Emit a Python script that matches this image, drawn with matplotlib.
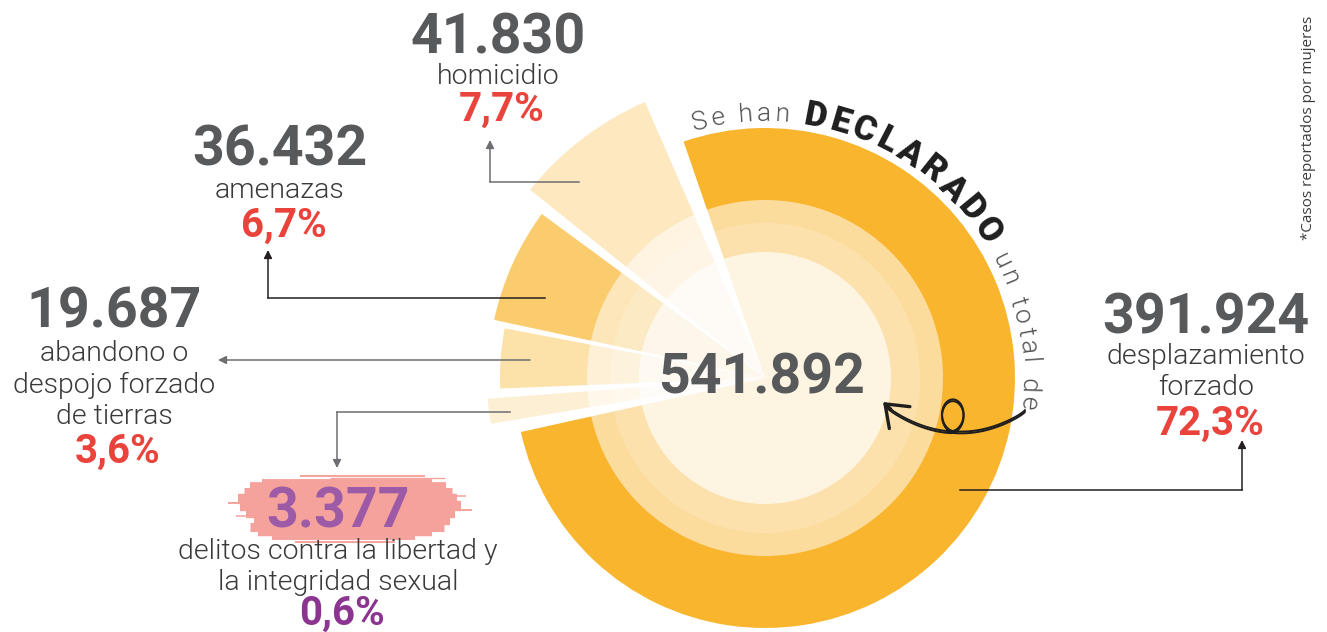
import numpy as np
import matplotlib
matplotlib.use("Agg")
import matplotlib.pyplot as plt
from matplotlib.patches import Wedge, Circle
from matplotlib.font_manager import FontProperties, findfont, get_font

# datos (casos declarados)
categories = ["desplazamiento\nforzado", "homicidio", "amenazas",
              "abandono o\ndespojo forzado\nde tierras",
              "delitos contra la libertad y\nla integridad sexual"]
values = [391924, 41830, 36432, 19687, 3377]
total = 541892

# estilo de cada porcion
radii = [250, 301, 277, 265, 278]
colors = ["#F9B52E", "#FDE8C0", "#FACC6D", "#FCE1A9", "#FDEFD4"]

W, H = 1327, 632
cx, cy = 765, 378

GRAY = "#58595B"
DARK = "#3A3A3C"
RED = "#E9433B"


def fmt_num(v):
    return f"{v:,}".replace(",", ".")


def fmt_pct(v):
    return f"{100 * v / total:.1f}%".replace(".", ",")


def fp(weight="bold", size=20, family="Roboto"):
    return FontProperties(family=family, weight=weight, size=size)


fig = plt.figure(figsize=(W / 100, H / 100), dpi=100)
ax = fig.add_axes([0, 0, 1, 1])
ax.set_xlim(0, W)
ax.set_ylim(H, 0)
ax.axis("off")

# angulos de las porciones (grados en pantalla, antihorario)
gaps = [2.4, 1.3, 2.0, 3.0]
start = 113.5
angles = {}
a = start
for i in range(1, len(values)):
    span = max(values[i] / total * 360, 5.2)
    angles[i] = (a, a + span)
    a += span + gaps[i - 1]
angles[0] = (a, start - 4.5 + 360)

for i in range(len(values)):
    t1, t2 = angles[i]
    ax.add_patch(Wedge((cx, cy), radii[i], -t2, -t1, fc=colors[i], lw=0, zorder=1))

# aros claros del centro
ax.add_patch(Circle((cx, cy), 178, fc="white", alpha=0.53, lw=0, zorder=2))
ax.add_patch(Circle((cx, cy), 155, fc="white", alpha=0.17, lw=0, zorder=2))
ax.add_patch(Circle((cx, cy), 126, fc="white", alpha=0.66, lw=0, zorder=2))

ax.text(cx - 3, cy, fmt_num(total), fontproperties=fp("bold", 40), color=GRAY,
        ha="center", va="center", zorder=5)


# texto curvo
def arc_text(parts, r, a_start, a_end):
    chars = []
    for s, prop, col in parts:
        f = get_font(findfont(prop))
        f.set_size(prop.get_size_in_points(), 100)
        for ch in s:
            adv = f.load_char(ord(ch)).linearHoriAdvance / 65536
            chars.append((ch, prop, col, adv))
    arc = np.deg2rad(a_start - a_end) * r
    gap = (arc - sum(c[3] for c in chars)) / (len(chars) - 1)
    pos = 0.0
    for ch, prop, col, adv in chars:
        th = a_start - np.rad2deg((pos + adv / 2) / r)
        x = cx + r * np.cos(np.deg2rad(th))
        y = cy - r * np.sin(np.deg2rad(th))
        ax.text(x, y, ch, fontproperties=prop, color=col, rotation=th - 90,
                rotation_mode="anchor", ha="center", va="baseline", zorder=5)
        pos += adv + gap


arc_text([("Se han ", fp(300, 19), "#555555"),
          ("DECLARADO", fp("black", 25), "#1E1E1E"),
          (" un total de", fp(300, 19), "#555555")], 257, 106, -7)

# flecha en espiral
u = np.linspace(0, 1, 300)
xb = 1025 - 134 * u
yb = 410 - 5 * u + 24 * np.sin(np.pi * u) ** 0.8
u0 = 0.52
phi = np.linspace(0, 2 * np.pi, 150)
x0l = np.interp(u0, u, xb)
y0l = np.interp(u0, u, yb)
xl = x0l - 12 * np.sin(phi) - 5 * phi / (2 * np.pi)
yl = y0l - 16 + 16 * np.cos(phi)
m1 = u <= u0
m2 = u >= u0
xs = np.concatenate([xb[m1], xl, xb[m2] - 5])
ys = np.concatenate([yb[m1], yl, yb[m2]])
for off in (0, 1.8):
    ax.plot(xs, ys + off, color="#1E1E1E", lw=1.4, zorder=6, solid_capstyle="round")
ax.annotate("", xy=(xs[-1] - 3, ys[-1] - 3), xytext=(xs[-12], ys[-12]),
            arrowprops=dict(arrowstyle="->,head_length=0.6,head_width=0.45",
                            color="#1E1E1E", lw=2.4,
                            mutation_scale=24, shrinkA=0, shrinkB=0), zorder=6)

# mancha de pincel detras de 3.377
strokes = [(300, 425, 476, 1.5), (262, 432, 481, 3), (250, 446, 486, 6),
           (244, 452, 492, 7), (238, 457, 499, 8), (240, 461, 506, 8),
           (246, 455, 513, 8), (254, 450, 520, 8), (250, 444, 527, 7),
           (258, 432, 533, 5), (272, 415, 538, 3), (295, 395, 542, 1.5),
           (228, 300, 503, 1.5), (445, 472, 510, 1.5), (330, 445, 478, 1),
           (236, 280, 516, 1.2), (430, 466, 496, 1.2)]
for x0, x1, y, lw in strokes:
    ax.plot([x0, x1], [y, y], color="#F5A29C", lw=lw / 1.389 * 1.3,
            solid_capstyle="butt", zorder=3)


def arrow(p0, p1, color):
    ax.annotate("", xy=p1, xytext=p0,
                arrowprops=dict(arrowstyle="-|>", color=color, lw=1.1,
                                mutation_scale=12, shrinkA=0, shrinkB=0), zorder=4)


LG = "#6D6E71"
BK = "#231F20"
ax.plot([579, 490], [182, 182], color=LG, lw=1.1, zorder=4)
arrow((490, 182), (490, 140), LG)
ax.plot([545, 268], [298, 298], color=BK, lw=1.1, zorder=4)
arrow((268, 298), (268, 250), BK)
arrow((530, 360), (218, 360), LG)
ax.plot([510, 337], [412, 412], color=LG, lw=1.1, zorder=4)
arrow((337, 412), (337, 468), LG)
ax.plot([960, 1242], [490, 490], color=BK, lw=1.1, zorder=4)
arrow((1242, 490), (1242, 440), BK)

# etiquetas: (x, y numero, y etiqueta, y porcentaje)
layout = [(1206, 318, 372, 424), (498, 38, 76, 110), (280, 150, 190, 226),
          (114, 312, 385, 452), (338, 512, 567, 614)]
num_colors = [GRAY, GRAY, GRAY, GRAY, "#9D5AA7"]
pct_colors = [RED, RED, RED, RED, "#8B3590"]
for i in range(len(values)):
    x, yn, yl_, yp = layout[i]
    ax.text(x, yn, fmt_num(values[i]), fontproperties=fp("bold", 40),
            color=num_colors[i], ha="center", va="center", zorder=5)
    ax.text(x, yl_, categories[i], fontproperties=fp(300, 20.5), color=DARK,
            ha="center", va="center", linespacing=1.2, zorder=5)
    ax.text(x + 4, yp, fmt_pct(values[i]), fontproperties=fp("bold", 29),
            color=pct_colors[i], ha="center", va="center", zorder=5)

ax.text(1309, 128, "*Casos reportados por mujeres", rotation=90,
        fontproperties=fp("normal", 11, "Open Sans"), color="#3C3C3C",
        ha="center", va="center")

fig.savefig("out.png", dpi=100)
